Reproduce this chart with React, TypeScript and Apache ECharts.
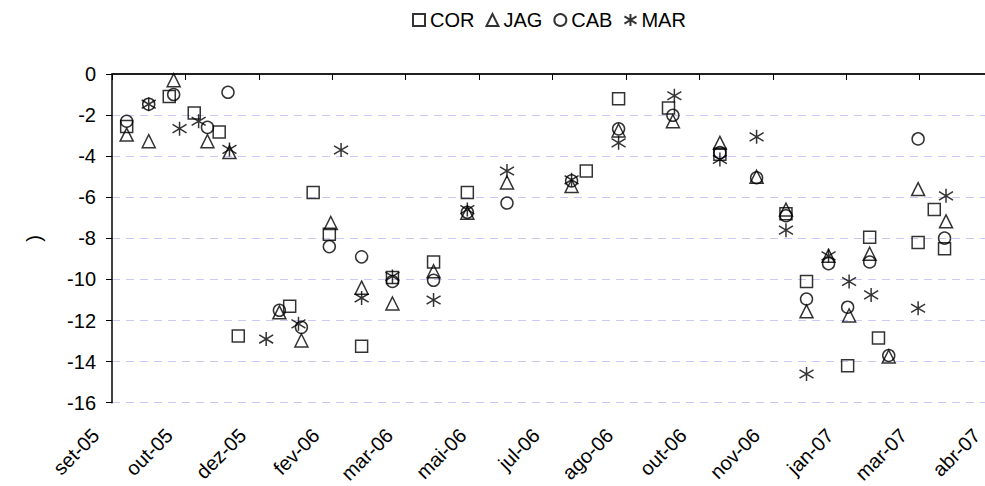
import React, { useEffect, useRef } from "react";
import * as echarts from "echarts";

// Sampling dates and values per series
const corDates = ["2005-09-15","2005-10-14","2005-10-31","2005-11-17","2005-11-30","2006-01-04","2006-01-20","2006-01-31","2006-02-22","2006-03-15","2006-04-12","2006-05-05","2006-07-25","2006-08-16","2006-09-19","2006-10-24","2006-12-08","2006-12-22","2007-01-19","2007-02-03","2007-02-09","2007-03-08","2007-03-19","2007-03-26"];
const corValues = [-2.55,-1.1,-1.9,-2.82,-12.75,-11.3,-5.77,-7.8,-13.25,-9.9,-9.15,-5.77,-4.72,-1.2,-1.66,-3.9,-6.8,-10.1,-14.2,-7.95,-12.85,-8.2,-6.6,-8.5];

const jagDates = ["2005-09-15","2005-09-30","2005-10-17","2005-11-09","2005-11-24","2005-12-28","2006-01-12","2006-02-01","2006-02-22","2006-03-15","2006-04-12","2006-05-05","2006-06-01","2006-07-15","2006-08-16","2006-09-22","2006-10-24","2006-11-18","2006-12-08","2006-12-22","2007-01-06","2007-01-20","2007-02-03","2007-02-16","2007-03-08","2007-03-27"];
const jagValues = [-2.95,-3.27,-0.3,-3.27,-3.8,-11.6,-12.97,-7.25,-10.4,-11.17,-9.6,-6.75,-5.28,-5.45,-2.75,-2.3,-3.35,-5.0,-6.6,-11.55,-8.85,-11.75,-8.75,-13.75,-5.6,-7.17];

const cabDates = ["2005-09-15","2005-09-30","2005-10-17","2005-11-09","2005-11-23","2005-12-28","2006-01-12","2006-01-31","2006-02-22","2006-03-15","2006-04-12","2006-05-05","2006-06-01","2006-07-15","2006-08-16","2006-09-22","2006-10-24","2006-11-18","2006-12-08","2006-12-22","2007-01-06","2007-01-19","2007-02-03","2007-02-16","2007-03-08","2007-03-26"];
const cabValues = [-2.3,-1.47,-1.0,-2.6,-0.89,-11.5,-12.33,-8.4,-8.9,-10.1,-10.04,-6.73,-6.28,-5.2,-2.67,-2.01,-3.83,-5.05,-6.9,-10.95,-9.23,-11.35,-9.15,-13.7,-3.16,-7.99];

const marDates = ["2005-09-30","2005-10-21","2005-11-03","2005-11-24","2005-12-19","2006-01-10","2006-02-08","2006-02-22","2006-03-15","2006-04-12","2006-05-05","2006-06-01","2006-07-15","2006-08-16","2006-09-23","2006-10-24","2006-11-18","2006-12-08","2006-12-22","2007-01-06","2007-01-20","2007-02-04","2007-03-08","2007-03-27"];
const marValues = [-1.47,-2.66,-2.3,-3.67,-12.9,-12.16,-3.7,-10.9,-9.85,-11.0,-6.6,-4.72,-5.15,-3.35,-1.06,-4.16,-3.06,-7.6,-14.6,-8.85,-10.1,-10.75,-11.4,-5.93];

const seriesNames = ["COR", "JAG", "CAB", "MAR"];
const monthsPt = ["jan","fev","mar","abr","mai","jun","jul","ago","set","out","nov","dez"];
const axisStart = "2005-09-05";
const axisSpanDays = 600;
const tickDays = 50;

const DAY = 86400000;
const parse = (s: string) => {
  const [y, m, d] = s.split("-").map(Number);
  return Date.UTC(y, m - 1, d);
};
const START = parse(axisStart);
const toDay = (s: string) => (parse(s) - START) / DAY;
const pairs = (dates: string[], vals: number[]) => dates.map((d, i) => [toDay(d), vals[i]]);

const ASTERISK = "path://M5,0L5,10M0,2L10,8M0,8L10,2";
const FONT = "'Liberation Sans', Arial, sans-serif";
const CHART_W = 1005;

export default function App() {
  const ref = useRef<HTMLDivElement>(null);
  useEffect(() => {
    if (!ref.current) return;
    const chart = echarts.init(ref.current, null, { renderer: "svg" });
    const itemStyle = { color: "rgba(0,0,0,0)", borderColor: "#000", borderWidth: 1.5 };
    const mk = (name: string, data: number[][], symbol: string, size: number) => ({
      type: "scatter",
      name,
      data,
      symbol,
      symbolSize: size,
      itemStyle,
      xAxisIndex: 0,
      yAxisIndex: 0,
      clip: false,
    });
    chart.setOption({
      animation: false,
      textStyle: { fontFamily: FONT },
      legend: {
        top: 5,
        left: 407,
        itemWidth: 12,
        itemHeight: 12,
        itemGap: 11,
        textStyle: { fontSize: 20, color: "#000", fontFamily: FONT },
        data: seriesNames,
      },
      grid: { left: 112, top: 74, right: CHART_W - 993, bottom: 81 },
      xAxis: [
        {
          type: "value",
          position: "bottom",
          min: 0,
          max: axisSpanDays,
          interval: tickDays,
          axisLine: { show: true, lineStyle: { color: "#7f7f7f", width: 2 } },
          axisTick: { show: false },
          splitLine: { show: false },
          axisLabel: {
            rotate: 45,
            margin: 13,
            padding: [0, 23, 0, 0],
            fontSize: 20,
            color: "#000",
            fontFamily: FONT,
            showMaxLabel: true,
            showMinLabel: true,
            formatter: (v: number) => {
              const dt = new Date(START + v * DAY);
              return monthsPt[dt.getUTCMonth()] + "-" + String(dt.getUTCFullYear() % 100).padStart(2, "0");
            },
          },
        },
        {
          type: "value",
          position: "top",
          min: 0,
          max: axisSpanDays,
          interval: tickDays,
          axisLine: { show: true, lineStyle: { color: "#000", width: 1.5 } },
          axisTick: { show: true, inside: true, length: 6, lineStyle: { color: "#000", width: 1 } },
          axisLabel: { show: false },
          splitLine: { show: false },
        },
      ],
      yAxis: {
        type: "value",
        min: -16,
        max: 0,
        interval: 2,
        name: ")",
        nameLocation: "middle",
        nameGap: 68,
        nameRotate: 90,
        nameTextStyle: { fontSize: 20, color: "#000", fontFamily: FONT },
        axisLine: { show: true, lineStyle: { color: "#000", width: 1.5 } },
        axisTick: { show: true, length: 6, lineStyle: { color: "#000" } },
        axisLabel: { margin: 16, fontSize: 20, color: "#000", fontFamily: FONT },
        splitLine: { show: true, lineStyle: { color: "#cacaf6", type: [8, 6], width: 1 } },
      },
      series: [
        mk("COR", pairs(corDates, corValues), "rect", 12),
        mk("JAG", pairs(jagDates, jagValues), "triangle", 13),
        mk("CAB", pairs(cabDates, cabValues), "circle", 12),
        mk("MAR", pairs(marDates, marValues), ASTERISK, 14),
      ],
    });
    return () => chart.dispose();
  }, []);
  return (
    <div
      style={{ position: "absolute", left: 0, top: 0, width: 985, height: 486, overflow: "hidden", background: "#fff" }}
    >
      <div ref={ref} style={{ width: CHART_W, height: 486 }} />
    </div>
  );
}
